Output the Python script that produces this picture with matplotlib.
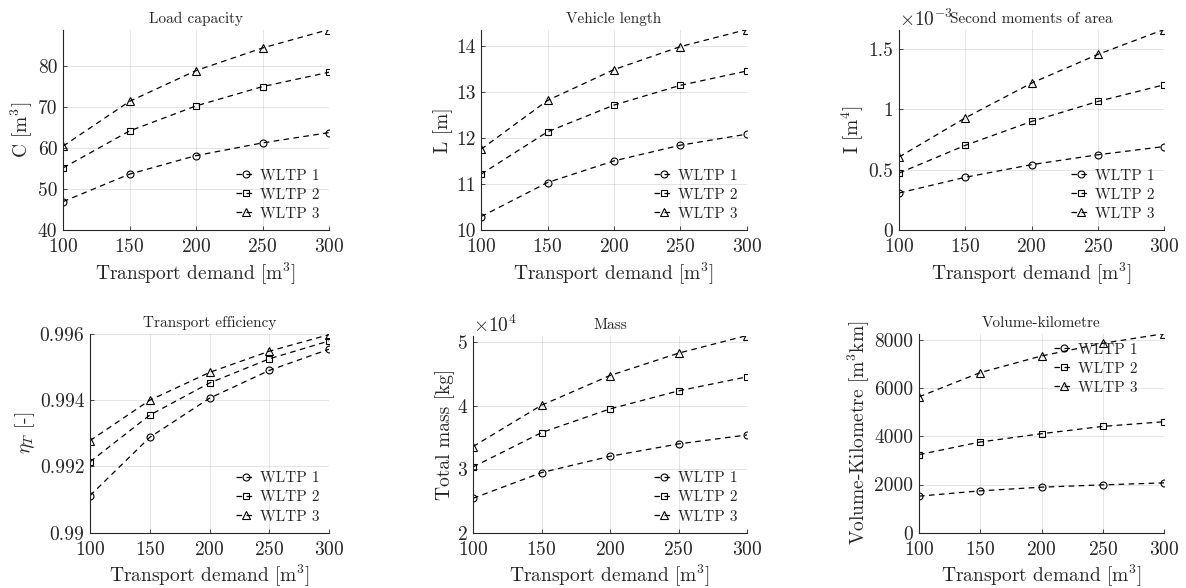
import matplotlib
matplotlib.use("Agg")
import matplotlib.pyplot as plt
from matplotlib.ticker import FuncFormatter, MultipleLocator

plt.rcParams['font.family'] = 'serif'
plt.rcParams['font.serif'] = ['cmr10']
plt.rcParams['mathtext.fontset'] = 'cm'
plt.rcParams['axes.unicode_minus'] = False
plt.rcParams['axes.formatter.use_mathtext'] = True

demand = [100, 150, 200, 250, 300]
series_labels = ['WLTP 1', 'WLTP 2', 'WLTP 3']

capacity = [
    [46.9, 53.6, 58.1, 61.2, 63.7],
    [55.1, 64.1, 70.2, 74.9, 78.4],
    [60.4, 71.3, 78.8, 84.3, 88.8],
]
length = [
    [10.29, 11.03, 11.50, 11.84, 12.08],
    [11.21, 12.13, 12.71, 13.14, 13.45],
    [11.75, 12.81, 13.48, 13.98, 14.35],
]
moment = [
    [0.307e-3, 0.437e-3, 0.542e-3, 0.624e-3, 0.692e-3],
    [0.472e-3, 0.702e-3, 0.900e-3, 1.066e-3, 1.204e-3],
    [0.605e-3, 0.930e-3, 1.218e-3, 1.456e-3, 1.663e-3],
]
efficiency = [
    [0.99112, 0.99288, 0.99406, 0.99490, 0.99554],
    [0.99214, 0.99355, 0.99452, 0.99525, 0.99579],
    [0.99278, 0.99400, 0.99484, 0.99548, 0.99598],
]
mass = [
    [2.541e4, 2.946e4, 3.203e4, 3.398e4, 3.539e4],
    [3.035e4, 3.576e4, 3.949e4, 4.233e4, 4.454e4],
    [3.356e4, 4.007e4, 4.475e4, 4.827e4, 5.105e4],
]
volkm = [
    [1517, 1738, 1890, 1986, 2069],
    [3241, 3766, 4110, 4414, 4607],
    [5641, 6648, 7338, 7862, 8262],
]

W, H = 1186, 588
fig = plt.figure(figsize=(W / 100, H / 100), dpi=100)

def pos(x0, x1, ytop, ybot):
    return [x0 / W, 1 - ybot / H, (x1 - x0) / W, (ybot - ytop) / H]

markers = ['o', 's', '^']
txtc = '#262626'

panels = [
    dict(data=capacity, title='Load capacity', ylabel='C [m$^3$]', p=pos(63, 329, 29.5, 230),
         ylim=(40, None), step=10, scale=1, mult=None, leg='lower right'),
    dict(data=length, title='Vehicle length', ylabel='L [m]', p=pos(481, 747, 29.5, 230),
         ylim=(10, None), step=1, scale=1, mult=None, leg='lower right'),
    dict(data=moment, title='Second moments of area', ylabel='I [m$^4$]', p=pos(899, 1164, 29.5, 230),
         ylim=(0, None), step=0.5e-3, scale=1e-3, mult=r'$\times10^{-3}$', leg='lower right'),
    dict(data=efficiency, title='Transport efficiency', ylabel=r'$\eta_T$ [-]', p=pos(90, 329, 334, 532.7),
         ylim=(0.99, 0.996), step=0.002, scale=1, mult=None, leg='lower right'),
    dict(data=mass, title='Mass', ylabel='Total mass [kg]', p=pos(473, 747, 335.5, 532.7),
         ylim=(2e4, None), step=1e4, scale=1e4, mult=r'$\times10^{4}$', leg='lower right'),
    dict(data=volkm, title='Volume-kilometre', ylabel='Volume-Kilometre [m$^3$km]', p=pos(919, 1164, 333.7, 532.7),
         ylim=(0, None), step=2000, scale=1, mult=None, leg='upper right'),
]

for pn in panels:
    ax = fig.add_axes(pn['p'])
    for vals, m, lab in zip(pn['data'], markers, series_labels):
        ax.plot(demand, vals, linestyle=(0, (4.5, 3.5)), color='black', linewidth=0.9,
                marker=m, markersize=5 if m != '^' else 5.5, markerfacecolor='none',
                markeredgecolor='black', markeredgewidth=0.8, label=lab)
    top = pn['ylim'][1] if pn['ylim'][1] is not None else max(max(v) for v in pn['data'])
    ax.set_ylim(pn['ylim'][0], top)
    ax.set_xlim(100, 300)
    ax.xaxis.set_major_locator(MultipleLocator(50))
    ax.yaxis.set_major_locator(MultipleLocator(pn['step']))
    sc = pn['scale']
    ax.yaxis.set_major_formatter(FuncFormatter(lambda v, p, sc=sc: '%g' % round(v / sc, 6)))
    ax.grid(True, color='#000000', alpha=0.12, linewidth=0.6)
    ax.set_axisbelow(True)
    for s in ['top', 'right']:
        ax.spines[s].set_visible(False)
    for s in ['left', 'bottom']:
        ax.spines[s].set_color('#262626')
        ax.spines[s].set_linewidth(0.8)
    ax.tick_params(direction='in', length=3, width=0.6, colors=txtc, labelsize=14)
    ax.tick_params(axis='x', pad=6)
    ax.tick_params(axis='y', pad=4)
    ax.set_title(pn['title'], fontsize=11, color=txtc, pad=5)
    ax.set_xlabel('Transport demand [m$^3$]', fontsize=14, color=txtc, labelpad=3)
    ax.set_ylabel(pn['ylabel'], fontsize=14, color=txtc, labelpad=2)
    if pn['mult']:
        ax.text(0.0, 1.0, pn['mult'], transform=ax.transAxes, fontsize=14, color=txtc,
                ha='left', va='bottom')
    if pn['leg'] == 'upper right':
        leg = ax.legend(loc='upper right', bbox_to_anchor=(0.93, 1.0), frameon=False, fontsize=11,
                        handlelength=1.3, handletextpad=0.3, labelspacing=0.35, borderaxespad=0.2)
    else:
        leg = ax.legend(loc='lower right', frameon=False, fontsize=11,
                        handlelength=1.3, handletextpad=0.3, labelspacing=0.35, borderaxespad=0.2)
    for t in leg.get_texts():
        t.set_color(txtc)

fig.savefig('out.png', dpi=100)
